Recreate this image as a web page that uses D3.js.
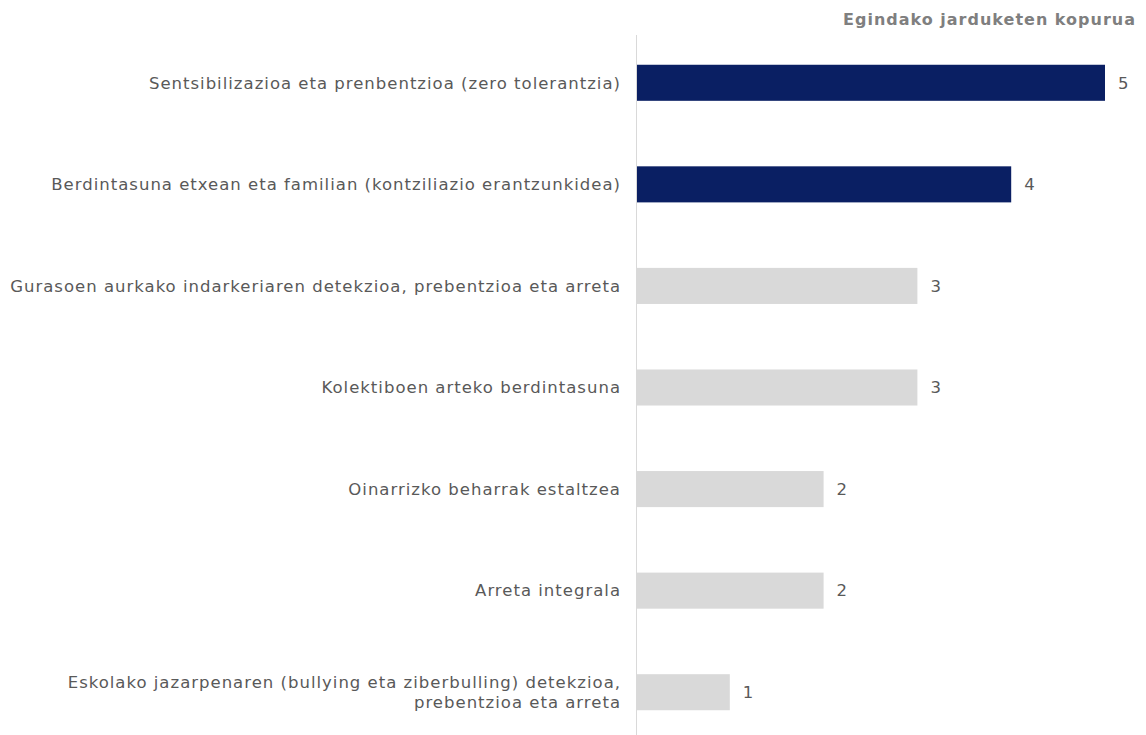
<!DOCTYPE html>
<meta charset="utf-8">
<style>
body { margin: 0; background: #fff; }
.label, .value { font-family: "DejaVu Sans", Verdana, sans-serif; font-size: 16.5px; letter-spacing: 1px; fill: #595959; }
.title { font-family: "DejaVu Sans", Verdana, sans-serif; font-size: 16px; letter-spacing: 1px; font-weight: bold; fill: #7f7f7f; }
</style>
<body>
<svg width="1146" height="735"></svg>
<script src="https://d3js.org/d3.v7.min.js"></script>
<script>

// categories, top to bottom
var categories = [
  ["Sentsibilizazioa eta prenbentzioa (zero tolerantzia)"],
  ["Berdintasuna etxean eta familian (kontziliazio erantzunkidea)"],
  ["Gurasoen aurkako indarkeriaren detekzioa, prebentzioa eta arreta"],
  ["Kolektiboen arteko berdintasuna"],
  ["Oinarrizko beharrak estaltzea"],
  ["Arreta integrala"],
  ["Eskolako jazarpenaren (bullying eta ziberbulling) detekzioa,", "prebentzioa eta arreta"]
];
var values = [5, 4, 3, 3, 2, 2, 1];
var highlighted = [true, true, false, false, false, false, false];
var title = "Egindako jarduketen kopurua";

var svg = d3.select("svg"),
    width = +svg.attr("width"),
    height = +svg.attr("height");

var x0 = 636;

var x = d3.scaleLinear()
    .domain([0, 5])
    .range([x0, 1105]);

var y = d3.scaleBand()
    .domain(d3.range(categories.length))
    .range([32, 743])
    .paddingInner(0.645)
    .paddingOuter(0.3225);

// vertical axis line
svg.append("line")
    .attr("x1", x0 + 0.5).attr("x2", x0 + 0.5)
    .attr("y1", 35).attr("y2", height)
    .attr("stroke", "#d9d9d9")
    .attr("stroke-width", 1);

var row = svg.selectAll("g.row")
    .data(values)
  .enter().append("g")
    .attr("class", "row");

row.append("rect")
    .attr("x", x(0) + 1)
    .attr("y", function(d, i) { return y(i); })
    .attr("width", function(d) { return x(d) - x(0) - 1; })
    .attr("height", y.bandwidth())
    .attr("fill", function(d, i) { return highlighted[i] ? "#0a1f63" : "#d9d9d9"; });

row.append("text")
    .attr("class", "value")
    .attr("x", function(d) { return x(d) + 13; })
    .attr("y", function(d, i) { return y(i) + y.bandwidth() / 2; })
    .attr("dy", "0.35em")
    .text(function(d) { return d; });

row.append("text")
    .attr("class", "label")
    .attr("text-anchor", "end")
    .attr("x", 621)
    .attr("y", function(d, i) { return y(i) + y.bandwidth() / 2; })
    .each(function(d, i) {
      var lines = categories[i];
      var t = d3.select(this);
      lines.forEach(function(l, j) {
        t.append("tspan")
          .attr("x", 621)
          .attr("dy", j == 0 ? (0.35 - (lines.length - 1) * 0.6) + "em" : "1.2em")
          .text(l);
      });
    });

svg.append("text")
    .attr("class", "title")
    .attr("text-anchor", "end")
    .attr("x", 1136)
    .attr("y", 25)
    .text(title);

</script>
</body>
